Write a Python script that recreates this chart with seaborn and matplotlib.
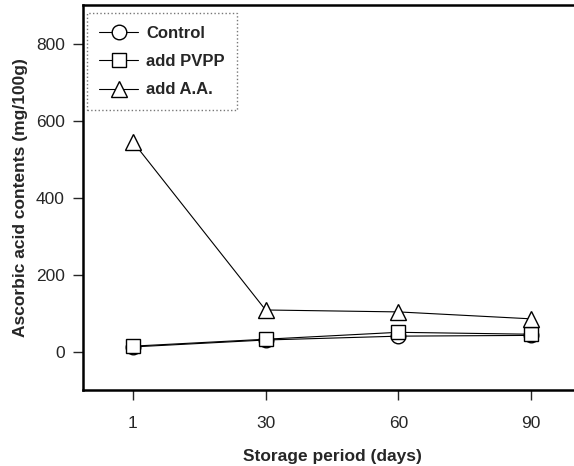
import numpy as np
import pandas as pd
import seaborn as sns
import matplotlib.pyplot as plt

# Storage period categories (evenly spaced on the x axis)
days = ["1", "30", "60", "90"]

# Ascorbic acid contents (mg/100g)
control = [12, 30, 40, 42]
add_pvpp = [14, 32, 50, 45]
add_aa = [545, 108, 103, 85]

series_names = ["Control", "add PVPP", "add A.A."]
series_values = [control, add_pvpp, add_aa]
series_markers = ["o", "s", "^"]
marker_sizes = [10.5, 10.5, 12]

sns.set_style("ticks")
plt.rcParams['font.family'] = ['Liberation Sans', 'DejaVu Sans']

fig = plt.figure(figsize=(5.74, 4.66), dpi=100)
ax = fig.add_axes([0.1446, 0.163, 1.012 - 0.1446, 0.989 - 0.163])

pos = np.arange(len(days))
for name, vals, mk, ms in zip(series_names, series_values, series_markers, marker_sizes):
    df = pd.DataFrame({"pos": pos, "value": vals})
    sns.lineplot(data=df, x="pos", y="value", ax=ax, color="black", linewidth=0.8,
                 marker=mk, markersize=ms, markerfacecolor="white",
                 markeredgecolor="black", markeredgewidth=1.0, label=name)

ax.set_xlim(-0.376, 3.376)
ax.set_ylim(-100, 900)
ax.set_xticks(pos)
ax.set_xticklabels(days)
ax.set_yticks([0, 200, 400, 600, 800])

ax.set_xlabel("Storage period (days)", fontsize=12.5, fontweight="bold", labelpad=13)
ax.set_ylabel("Ascorbic acid contents (mg/100g)", fontsize=12.5, fontweight="bold", labelpad=6)
ax.tick_params(axis="x", direction="out", length=7, width=1.0, labelsize=12.5, pad=12)
ax.tick_params(axis="y", direction="out", length=7, width=1.0, labelsize=12.5, pad=6)

for side in ["left", "bottom", "top"]:
    ax.spines[side].set_linewidth(1.8)
    ax.spines[side].set_color("black")
ax.spines["right"].set_visible(False)

leg = ax.legend(loc="upper left", bbox_to_anchor=(0.008, 0.979),
                prop={"weight": "bold", "size": 12},
                handlelength=2.3, handletextpad=0.5, labelspacing=0.8,
                borderaxespad=0, borderpad=0.75, fancybox=False, frameon=True)
frame = leg.get_frame()
frame.set_edgecolor("#555555")
frame.set_linestyle(":")
frame.set_linewidth(1.0)

fig.savefig("out.png", dpi=100)
